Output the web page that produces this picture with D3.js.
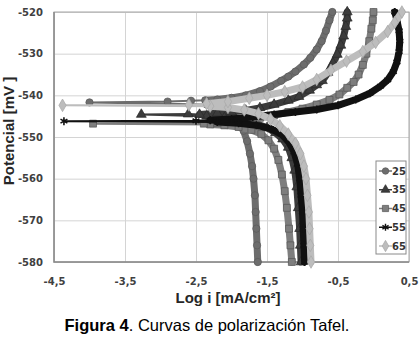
<!DOCTYPE html>
<html>
<head>
<meta charset="utf-8">
<script src="https://cdn.jsdelivr.net/npm/d3@7"></script>
<style>
  body { margin: 0; background: #fff; }
  svg { display: block; }
</style>
</head>
<body>
<svg id="chart" width="419" height="338"></svg>
<script>
// Tafel curves, log i [mA/cm2] vs potential [mV], one array per branch
const xTicks = [-4.5, -3.5, -2.5, -1.5, -0.5, 0.5];
const yTicks = [-520, -530, -540, -550, -560, -570, -580];
const seriesNames = ["25", "35", "45", "55", "65"];

const cath25 = [[-1.63,-580],[-1.64,-576],[-1.65,-572],[-1.66,-568],[-1.67,-564],[-1.69,-560],[-1.71,-557],[-1.74,-554],[-1.78,-551],[-1.83,-548.5],[-1.9,-546.5],[-1.98,-545],[-2.08,-543.8],[-2.2,-542.8],[-2.35,-542.2]];
const flat25 = [[-4.0,-541.7],[-2.9,-541.5],[-2.57,-541.3]];
const anod25 = [[-2.37,-541.2],[-2.2,-541],[-2.0,-540.6],[-1.8,-540],[-1.6,-539],[-1.45,-537.9],[-1.3,-536.5],[-1.2,-535.5],[-1.1,-534.3],[-0.98,-532.6],[-0.89,-531],[-0.8,-529],[-0.73,-527],[-0.67,-524.5],[-0.62,-522],[-0.58,-520]];

const cath35 = [[-1.02,-580],[-1.03,-576],[-1.04,-572],[-1.06,-567],[-1.08,-562],[-1.11,-558],[-1.15,-555],[-1.2,-552.5],[-1.28,-550.5],[-1.38,-549],[-1.5,-547.8],[-1.65,-546.8],[-1.85,-546],[-2.1,-545.4],[-2.35,-545]];
const flat35 = [[-3.27,-544.6],[-2.61,-544.5]];
const anod35 = [[-2.45,-544.6],[-2.2,-544.3],[-2.0,-544],[-1.8,-543.6],[-1.6,-543],[-1.4,-542.2],[-1.2,-541.2],[-1.05,-540.3],[-0.9,-538.8],[-0.8,-537.5],[-0.72,-536.5],[-0.64,-534.5],[-0.57,-532.3],[-0.51,-530.2],[-0.46,-528],[-0.42,-525.8],[-0.39,-523.5],[-0.37,-521.5],[-0.37,-520]];

const cath45 = [[-1.15,-580],[-1.17,-576],[-1.19,-572],[-1.22,-567],[-1.25,-563],[-1.29,-559],[-1.34,-555.5],[-1.4,-552.8],[-1.48,-550.8],[-1.58,-549.3],[-1.72,-548.3],[-1.9,-547.6],[-2.1,-547.2],[-2.3,-547]];
const flat45 = [[-3.95,-546.8],[-2.39,-546.8]];
const anod45 = [[-2.2,-546.6],[-2.0,-546.3],[-1.8,-545.9],[-1.6,-545.4],[-1.4,-544.8],[-1.2,-544],[-1.0,-543.2],[-0.8,-542.2],[-0.62,-541.1],[-0.48,-539.8],[-0.37,-538.2],[-0.28,-536.8],[-0.21,-535],[-0.15,-532.7],[-0.1,-530],[-0.06,-527],[-0.03,-524],[-0.01,-522],[0.0,-520]];

const cath55 = [[-0.97,-580],[-0.98,-576],[-0.99,-572],[-1.0,-568],[-1.02,-564],[-1.04,-560],[-1.07,-556.5],[-1.12,-553.5],[-1.2,-551],[-1.3,-549.3],[-1.45,-548],[-1.65,-547.2],[-1.9,-546.7],[-2.2,-546.4]];
const flat55 = [[-4.36,-546.2],[-2.5,-546.1]];
const anod55 = [[-2.3,-546],[-2.0,-545.7],[-1.7,-545.2],[-1.4,-544.6],[-1.1,-544],[-0.8,-543.4],[-0.5,-542.4],[-0.25,-541],[-0.05,-539.5],[0.1,-537.8],[0.2,-536.3],[0.28,-534.3],[0.33,-532],[0.36,-529.5],[0.37,-527],[0.36,-524.5],[0.33,-522],[0.3,-520]];

const cath65 = [[-0.88,-580],[-0.89,-576],[-0.9,-572],[-0.91,-568],[-0.93,-564],[-0.95,-560],[-0.98,-557],[-1.03,-554],[-1.1,-551.5],[-1.2,-549.3],[-1.32,-547.3],[-1.45,-545.7],[-1.62,-544.4],[-1.82,-543.5],[-2.05,-542.9],[-2.3,-542.6]];
const flat65 = [[-4.38,-542.4],[-2.6,-542.3]];
const anod65 = [[-2.35,-542],[-2.05,-541.5],[-1.75,-540.7],[-1.5,-540],[-1.25,-539.1],[-1.0,-538],[-0.8,-536.2],[-0.6,-534],[-0.38,-531.8],[-0.15,-529.5],[0.03,-527.3],[0.2,-524.7],[0.3,-522.5],[0.4,-520]];

const series = [
  { name: "25", cath: cath25, flat: flat25, anod: anod25, color: "#6d6d6d", edge: "#5a5a5a", symbol: d3.symbolCircle, size: 42 },
  { name: "35", cath: cath35, flat: flat35, anod: anod35, color: "#3c3c3c", edge: "#2a2a2a", symbol: d3.symbolTriangle, size: 42 },
  { name: "45", cath: cath45, flat: flat45, anod: anod45, color: "#7e7e7e", edge: "#555", symbol: d3.symbolSquare, size: 48 },
  { name: "55", cath: cath55, flat: flat55, anod: anod55, color: "#111", edge: "#111", symbol: d3.symbolAsterisk, size: 44, stroke: true },
  { name: "65", cath: cath65, flat: flat65, anod: anod65, color: "#bdbdbd", edge: "#a8a8a8", symbol: d3.symbolDiamond, size: 46 }
];

const svg = d3.select("#chart");
const m = { left: 54, right: 409, top: 12, bottom: 262 };

const x = d3.scaleLinear().domain([-4.5, 0.5]).range([m.left, m.right]);
const y = d3.scaleLinear().domain([-580, -520]).range([m.bottom, m.top]);
const fmt = d => d3.format(".1f")(d).replace(".", ",").replace("−", "-");

// grid
svg.append("g")
  .attr("transform", `translate(0,${m.bottom})`)
  .call(d3.axisBottom(x).tickValues(xTicks).tickSize(-(m.bottom - m.top)).tickFormat(""))
  .call(g => g.select(".domain").remove())
  .call(g => g.selectAll("line").attr("stroke", "#d4d4d4"));
svg.append("g")
  .attr("transform", `translate(${m.left},0)`)
  .call(d3.axisLeft(y).tickValues(yTicks).tickSize(-(m.right - m.left)).tickFormat(""))
  .call(g => g.select(".domain").remove())
  .call(g => g.selectAll("line").attr("stroke", "#d4d4d4"));

// plot frame
svg.append("rect")
  .attr("x", m.left).attr("y", m.top)
  .attr("width", m.right - m.left).attr("height", m.bottom - m.top)
  .attr("fill", "none").attr("stroke", "#a6a6a6");
svg.append("path")
  .attr("d", `M${m.left},${m.top}V${m.bottom}H${m.right}`)
  .attr("fill", "none").attr("stroke", "#8a8a8a").attr("stroke-width", 1.5);

// tick labels
svg.append("g")
  .attr("transform", `translate(0,${m.bottom})`)
  .call(d3.axisBottom(x).tickValues(xTicks).tickSize(0).tickPadding(16).tickFormat(fmt))
  .call(g => g.select(".domain").remove())
  .call(g => g.selectAll("text")
    .attr("font-family", "DejaVu Sans").attr("font-weight", "bold")
    .attr("font-size", 10).attr("fill", "#404040"));
svg.append("g")
  .attr("transform", `translate(${m.left},0)`)
  .call(d3.axisLeft(y).tickValues(yTicks).tickSize(0).tickPadding(11).tickFormat(d => String(d)))
  .call(g => g.select(".domain").remove())
  .call(g => g.selectAll("text")
    .attr("font-family", "DejaVu Sans").attr("font-weight", "bold")
    .attr("font-size", 10).attr("fill", "#404040"));

// curves
const line = d3.line().x(d => x(d[0])).y(d => y(d[1]));
const plot = svg.append("g");

series.forEach(s => {
  const all = s.cath.concat(s.flat, s.anod);
  plot.append("path")
    .attr("d", line(all))
    .attr("fill", "none").attr("stroke", s.color).attr("stroke-width", 2);
  [s.cath, s.anod].forEach(branch => {
    plot.append("path")
      .attr("d", line(branch))
      .attr("fill", "none").attr("stroke", s.color)
      .attr("stroke-width", 7).attr("stroke-linecap", "round").attr("stroke-linejoin", "round");
  });
  plot.selectAll(null)
    .data(all)
    .join("path")
    .attr("transform", d => `translate(${x(d[0])},${y(d[1])})`)
    .attr("d", d3.symbol(s.symbol, s.size))
    .attr("fill", s.stroke ? "none" : s.color)
    .attr("stroke", s.edge)
    .attr("stroke-width", s.stroke ? 1.6 : 0.7);
});

// legend
const legend = svg.append("g");
legend.append("rect")
  .attr("x", 376).attr("y", 161).attr("width", 30).attr("height", 93)
  .attr("fill", "#fff").attr("stroke", "#8a8a8a");
const rowY = d3.scalePoint().domain(seriesNames).range([171, 246]);
series.forEach(s => {
  const cy = rowY(s.name);
  legend.append("line")
    .attr("x1", 379).attr("x2", 392).attr("y1", cy).attr("y2", cy)
    .attr("stroke", s.color).attr("stroke-width", 1.5);
  legend.append("path")
    .attr("transform", `translate(385.5,${cy})`)
    .attr("d", d3.symbol(s.symbol, s.size * 0.8))
    .attr("fill", s.stroke ? "none" : s.color)
    .attr("stroke", s.edge)
    .attr("stroke-width", s.stroke ? 1.4 : 0.7);
  legend.append("text")
    .attr("x", 392).attr("y", cy).attr("dy", "0.35em")
    .attr("font-family", "DejaVu Sans").attr("font-weight", "bold")
    .attr("font-size", 10).attr("fill", "#333")
    .text(s.name);
});

// axis titles
svg.append("text")
  .attr("x", 228).attr("y", 303)
  .attr("text-anchor", "middle")
  .attr("font-family", "Liberation Sans, Arial, sans-serif").attr("font-weight", "bold")
  .attr("font-size", 15).attr("fill", "#262626")
  .text("Log i [mA/cm²]");
svg.append("text")
  .attr("transform", "translate(14,131) rotate(-90)")
  .attr("text-anchor", "middle")
  .attr("font-family", "Liberation Sans, Arial, sans-serif").attr("font-weight", "bold")
  .attr("font-size", 15).attr("fill", "#262626")
  .text("Potencial [mV ]");

// caption
const cap = svg.append("text")
  .attr("x", 207).attr("y", 331)
  .attr("text-anchor", "middle")
  .attr("font-family", "Liberation Sans, Arial, sans-serif")
  .attr("font-size", 16.5).attr("fill", "#000");
cap.append("tspan").attr("font-weight", "bold").text("Figura 4");
cap.append("tspan").text(". Curvas de polarización Tafel.");
</script>
</body>
</html>
